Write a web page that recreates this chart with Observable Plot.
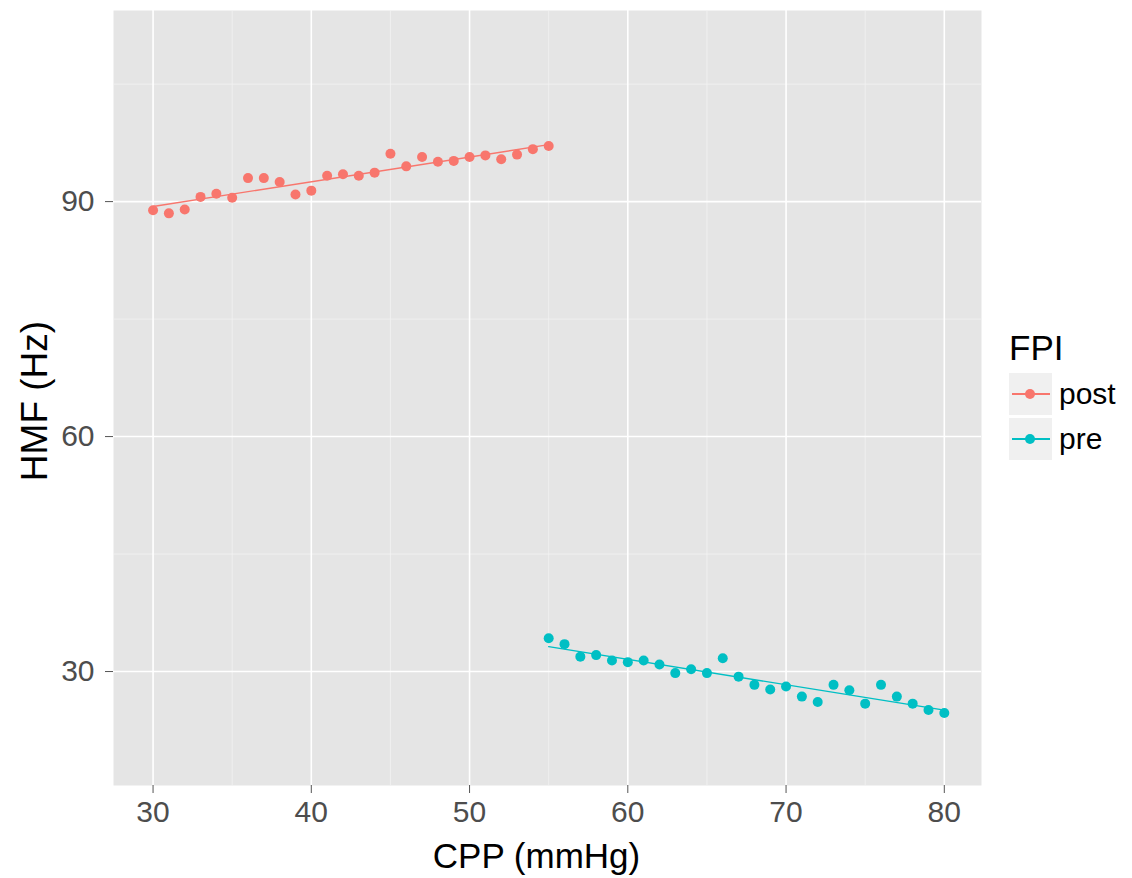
<!DOCTYPE html>
<html><head><meta charset="utf-8">
<script src="https://cdn.jsdelivr.net/npm/d3@7"></script>
<script src="https://cdn.jsdelivr.net/npm/@observablehq/plot@0.6"></script>
<style>
body{margin:0;background:#fff;font-family:"Liberation Sans",Arial,sans-serif;}
#wrap{position:relative;width:1132px;height:878px;}
#legend{position:absolute;left:1009px;top:328px;color:#000;}
#legend .t{font-size:35px;line-height:40px;height:45px;}
#legend .row{display:flex;align-items:center;height:42px;margin-bottom:3px;}
#legend .key{width:43px;height:42px;background:#f0f0f0;position:relative;margin-right:7px;}
#legend .key .ln{position:absolute;left:3px;right:2px;top:20px;height:2px;}
#legend .key .pt{position:absolute;left:16px;top:16px;width:10px;height:10px;border-radius:50%;}
#legend .lab{font-size:30px;}
</style></head>
<body><div id="wrap"><div id="chart"></div>
<div id="legend"></div></div>
<script>
const postX = [30,31,32,33,34,35,36,37,38,39,40,41,42,43,44,45,46,47,48,49,50,51,52,53,54,55];
const postY = [88.9,88.5,89.0,90.6,91.0,90.5,93.0,93.0,92.5,90.9,91.4,93.3,93.5,93.3,93.7,96.1,94.5,95.7,95.1,95.2,95.7,95.9,95.4,96.0,96.7,97.1];
const preX = [55,56,57,58,59,60,61,62,63,64,65,66,67,68,69,70,71,72,73,74,75,76,77,78,79,80];
const preY = [34.25,33.5,31.9,32.1,31.4,31.2,31.4,30.9,29.8,30.3,29.8,31.7,29.35,28.3,27.7,28.1,26.8,26.1,28.3,27.6,25.9,28.3,26.8,25.9,25.1,24.7];
const groups = ["post","pre"];
const colors = ["#F8766D","#00BFC4"];
const xTicks = [30,40,50,60,70,80];
const xMinor = [35,45,55,65,75];
const yTicks = [30,60,90];
const yMinor = [45,75,105];

const data = [
  ...postX.map((x,i)=>({CPP:x,HMF:postY[i],FPI:"post"})),
  ...preX.map((x,i)=>({CPP:x,HMF:preY[i],FPI:"pre"}))
];

const chart = Plot.plot({
  width:1132, height:878,
  marginLeft:113, marginRight:151, marginTop:10, marginBottom:93,
  style:{fontFamily:"Liberation Sans, Arial, sans-serif", background:"white"},
  x:{domain:[27.5,82.35]},
  y:{domain:[15.45,114.4]},
  color:{domain:groups, range:colors},
  marks:[
    Plot.frame({fill:"#e5e5e5", stroke:null}),
    Plot.gridX(xMinor,{stroke:"#f2f2f2",strokeOpacity:1,strokeWidth:0.8}),
    Plot.gridY(yMinor,{stroke:"#f2f2f2",strokeOpacity:1,strokeWidth:0.8}),
    Plot.gridX(xTicks,{stroke:"white",strokeOpacity:1,strokeWidth:1.6}),
    Plot.gridY(yTicks,{stroke:"white",strokeOpacity:1,strokeWidth:1.6}),
    Plot.axisX(xTicks,{tickSize:8,tickPadding:7,fontSize:30,color:"#4d4d4d",stroke:"#555",label:null}),
    Plot.axisY(yTicks,{tickSize:8,tickPadding:11,fontSize:30,color:"#4d4d4d",stroke:"#555",label:null}),
    Plot.text(["CPP (mmHg)"],{frameAnchor:"bottom",dx:-11,dy:82,fontSize:35,fill:"#000"}),
    Plot.text(["HMF (Hz)"],{frameAnchor:"left",dx:-78,dy:3,rotate:-90,textAnchor:"middle",fontSize:37,fill:"#000"}),
    Plot.linearRegressionY(data,{x:"CPP",y:"HMF",stroke:"FPI",ci:0,strokeWidth:1.4}),
    Plot.dot(data,{x:"CPP",y:"HMF",fill:"FPI",r:5})
  ]
});
document.getElementById("chart").appendChild(chart);

const lg = document.getElementById("legend");
let html = '<div class="t">FPI</div>';
groups.forEach((g,i)=>{
  html += `<div class="row"><div class="key"><div class="ln" style="background:${colors[i]}"></div><div class="pt" style="background:${colors[i]}"></div></div><div class="lab">${g}</div></div>`;
});
lg.innerHTML = html;
</script></body></html>
